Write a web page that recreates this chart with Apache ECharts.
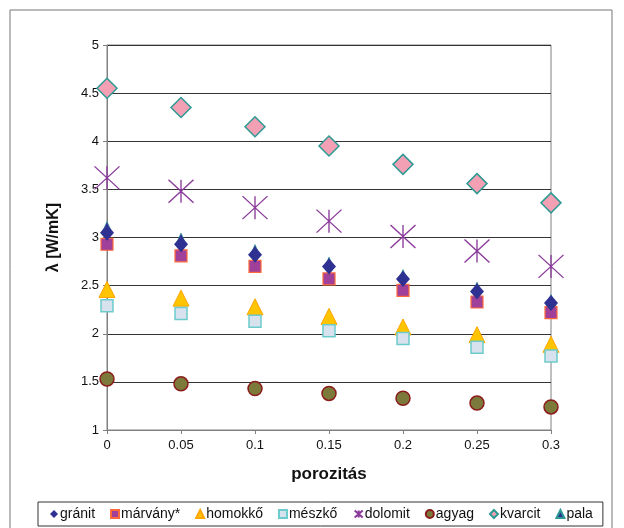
<!DOCTYPE html>
<html><head><meta charset="utf-8">
<script src="https://cdn.jsdelivr.net/npm/echarts@6/dist/echarts.min.js"></script>
<style>html,body{margin:0;padding:0;background:#fff}#c{width:624px;height:528px}</style>
</head><body><div id="c"></div>
<script>
const porosity = [0, 0.05, 0.1, 0.15, 0.2, 0.25, 0.3];
const yTicks = [1, 1.5, 2, 2.5, 3, 3.5, 4, 4.5, 5];
const granit   = [3.05, 2.93, 2.82, 2.70, 2.57, 2.44, 2.32];
const marvany  = [2.93, 2.81, 2.70, 2.57, 2.45, 2.33, 2.22];
const homokko  = [2.46, 2.37, 2.28, 2.18, 2.07, 1.99, 1.89];
const meszko   = [2.29, 2.21, 2.13, 2.03, 1.95, 1.86, 1.77];
const dolomit  = [3.62, 3.48, 3.31, 3.17, 3.01, 2.86, 2.70];
const agyag    = [1.53, 1.48, 1.43, 1.38, 1.33, 1.28, 1.24];
const kvarcit  = [4.55, 4.35, 4.15, 3.95, 3.76, 3.56, 3.36];
const pala     = [3.11, 2.99, 2.87, 2.74, 2.61, 2.48, 2.35];
const names = ['gránit','márvány*','homokkő','mészkő','dolomit','agyag','kvarcit','pala'];

const star = 'path://M0 0 L20 18 M20 0 L0 18 M10 0 L10 18';
const pts = arr => arr.map((v,i)=>[porosity[i], v]);
const font = '"Liberation Sans", Arial, sans-serif';

function s(name, data, symbol, size, color, border, bw) {
  return { name, type: 'scatter', data: pts(data), symbol, symbolSize: size,
    itemStyle: { color, borderColor: border, borderWidth: bw, opacity: 1 },
    emphasis: { disabled: true } };
}
const series = [
  s(names[0], granit, 'diamond', [14,16], '#2E3192', '#2E3192', 0),
  s(names[1], marvany, 'rect', [12,12], '#A0409A', '#FF6A3D', 1.2),
  s(names[2], homokko, 'triangle', [16,16], '#FFC400', '#FFA500', 1),
  s(names[3], meszko, 'rect', [12,12], '#D8E2EE', '#6CCCCC', 1.5),
  s(names[4], dolomit, star, [25,23], 'none', '#8A3A9A', 1.3),
  s(names[5], agyag, 'circle', 14, '#7C7A3A', '#8B1C1C', 1.5),
  s(names[6], kvarcit, 'diamond', [20,20], '#F4A0B4', '#2E9A94', 1.5),
  s(names[7], pala, 'triangle', [10,11], '#2E3192', '#2E9A94', 0.6)
];
series[0].z = 3; series[7].z = 2;

const chart = echarts.init(document.getElementById('c'), null, {renderer:'canvas'});
chart.setOption({
  animation: false,
  backgroundColor: '#fff',
  graphic: [
    { type: 'rect', shape: { x: 10, y: 10, width: 602, height: 530 }, style: { fill: 'none', stroke: '#777', lineWidth: 1 }, z: -1 }
  ],
  grid: { left: 107, right: 73, top: 45, bottom: 98, show: true, borderColor: '#808080', borderWidth: 1, backgroundColor: 'transparent' },
  xAxis: {
    type: 'value', min: 0, max: 0.3, interval: 0.05,
    name: 'porozitás', nameLocation: 'middle', nameGap: 36,
    nameTextStyle: { fontFamily: font, fontSize: 17, fontWeight: 'bold', color: '#111' },
    axisLine: { lineStyle: { color: '#808080', width: 1 } },
    axisTick: { show: true, length: 4, lineStyle: { color: '#808080' } },
    axisLabel: { fontFamily: font, fontSize: 13, color: '#111', margin: 9,
      formatter: v => { const t = porosity.find(p => Math.abs(p - v) < 1e-9); return t === undefined ? '' : String(t); } },
    splitLine: { show: false }
  },
  yAxis: {
    type: 'value', min: 1, max: 5, interval: 0.5,
    name: 'λ [W/mK]', nameLocation: 'middle', nameGap: 45, nameRotate: 90,
    nameTextStyle: { fontFamily: font, fontSize: 16, fontWeight: 'bold', color: '#111' },
    axisLine: { show: true, lineStyle: { color: '#808080', width: 1 } },
    axisTick: { show: true, length: 4, lineStyle: { color: '#808080' } },
    axisLabel: { fontFamily: font, fontSize: 13, color: '#111', margin: 8,
      formatter: v => { const t = yTicks.find(p => Math.abs(p - v) < 1e-9); return t === undefined ? '' : String(t); } },
    splitLine: { show: true, lineStyle: { color: '#333', width: 1 } }
  },
  legend: {
    data: names, bottom: 2, left: 38,
    itemWidth: 8, itemHeight: 8, itemGap: 15,
    borderColor: '#333', borderWidth: 1, padding: [5, 10, 5, 12],
    textStyle: { fontFamily: font, fontSize: 14, color: '#111', padding: [0,0,0,-3] },
    selectedMode: false
  },
  series
});
</script></body></html>
